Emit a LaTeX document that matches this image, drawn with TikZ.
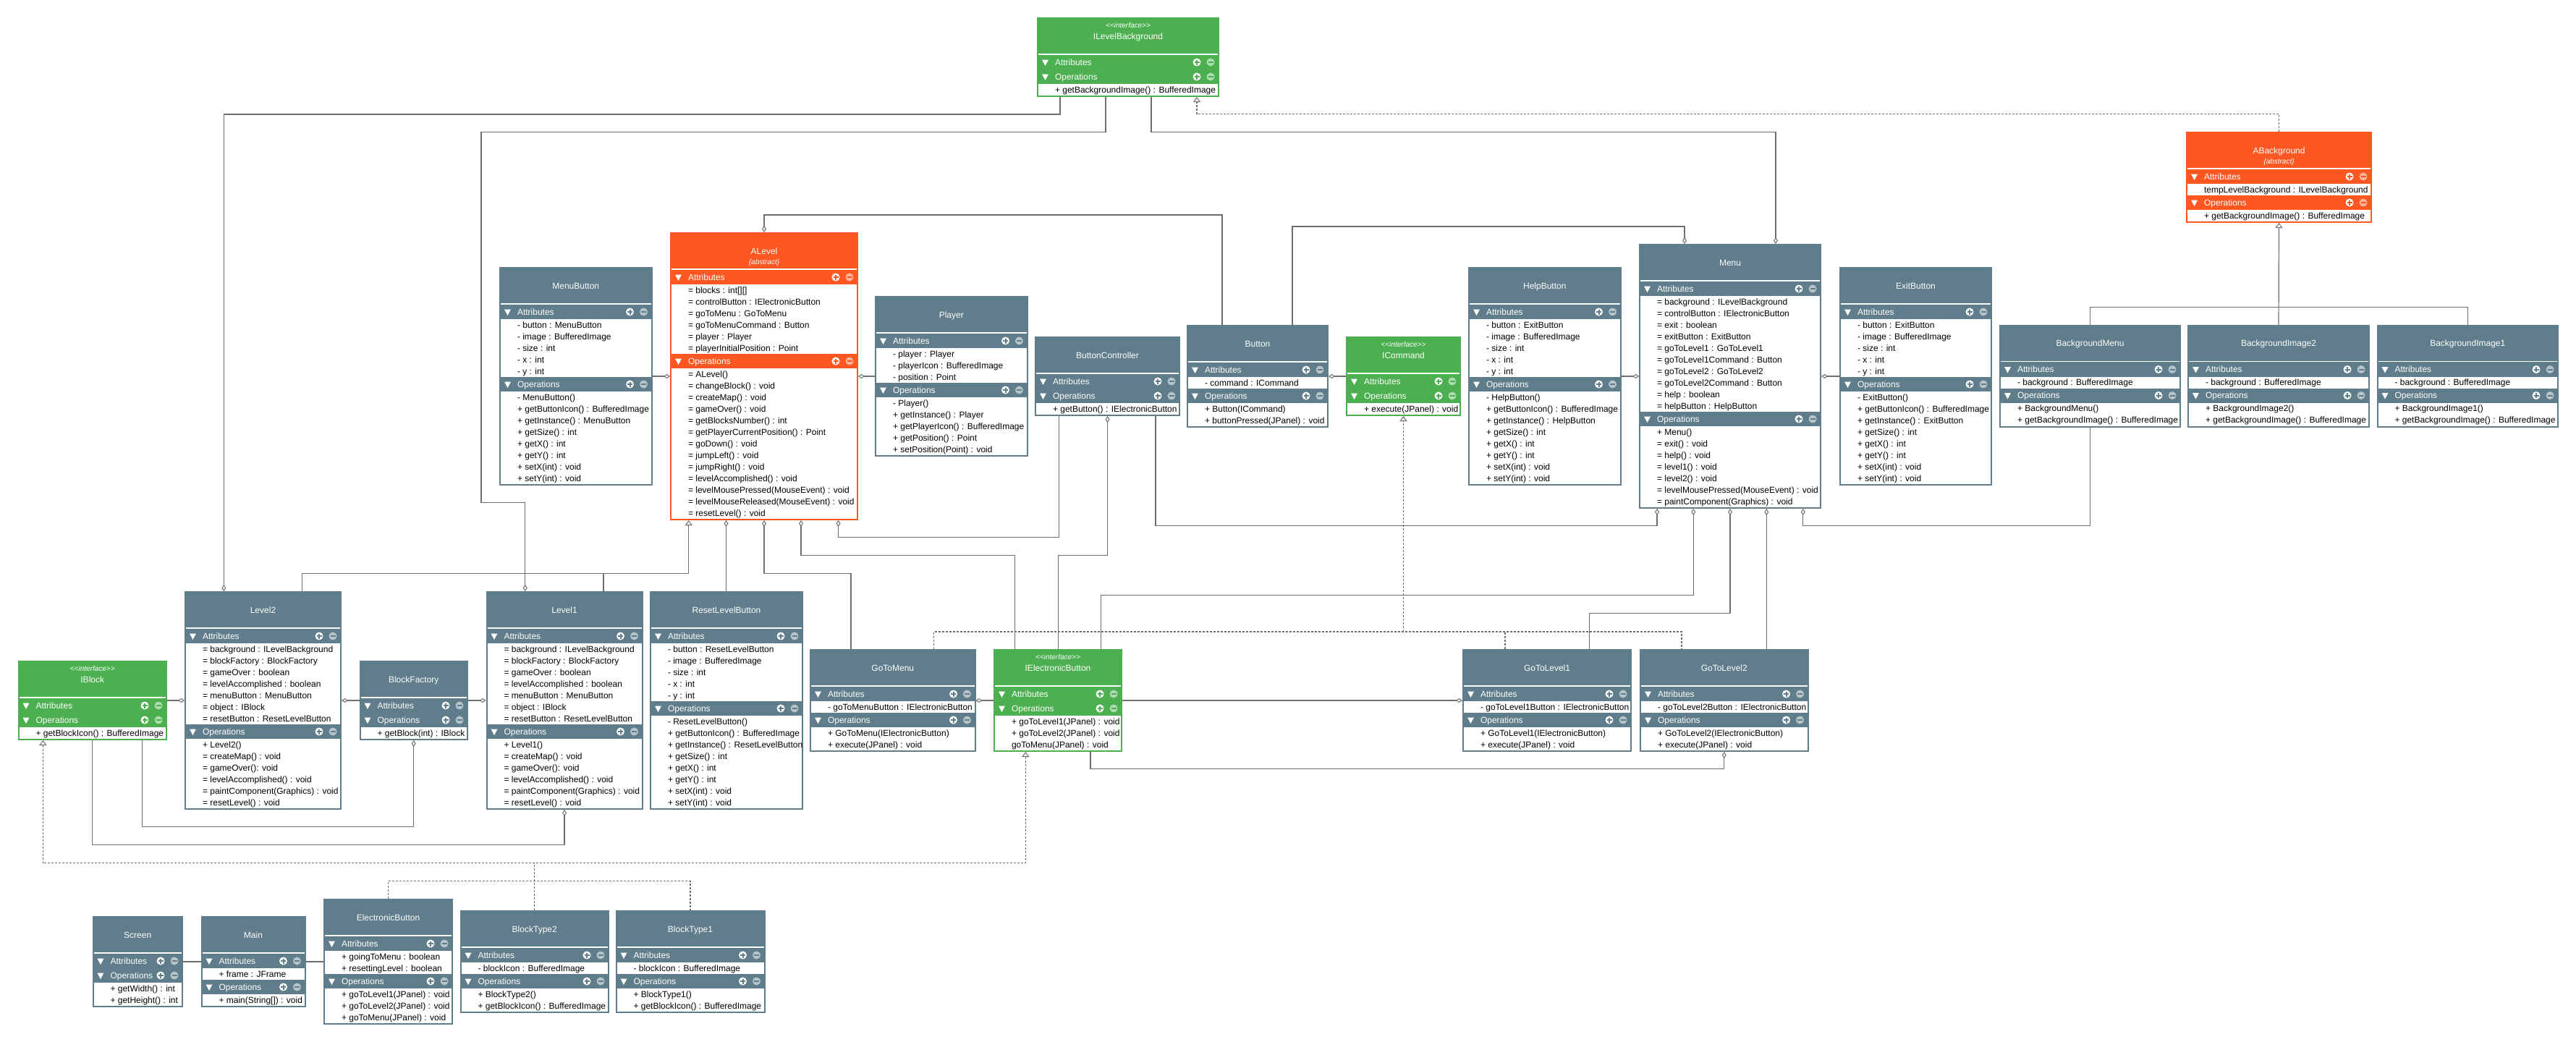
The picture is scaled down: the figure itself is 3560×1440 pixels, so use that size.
\documentclass[tikz,border=0pt]{standalone}
\usepackage{fontspec}
\setmainfont{Liberation Sans}
\usetikzlibrary{arrows.meta}
\definecolor{ublue}{HTML}{607D8B}
\definecolor{ugreen}{HTML}{4CAF50}
\definecolor{uorange}{HTML}{FF5722}
\definecolor{lnk}{HTML}{6E6E6E}
\newcount\nA \newcount\nO
\tikzset{
  rowtext/.style={inner sep=0pt, outer sep=0pt, anchor=base west, font=\fontsize{12}{14}\selectfont, text=black},
  bartext/.style={inner sep=0pt, outer sep=0pt, anchor=base west, font=\fontsize{12}{14}\selectfont, text=white},
  titletext/.style={inner sep=0pt, outer sep=0pt, anchor=base, font=\fontsize{12}{14}\selectfont, text=white},
  stereo/.style={inner sep=0pt, outer sep=0pt, anchor=base, font=\fontsize{10}{12}\selectfont\itshape, text=white},
  conn/.style={draw=lnk, line width=1.2pt},
  agg/.style={conn, {Diamond[fill=white, length=9pt, width=6pt, line width=1pt]}-},
  gen/.style={conn, -{Triangle[fill=white, length=7pt, width=10pt, line width=1pt]}},
  tree/.style={draw=lnk, line width=1.1pt, dash pattern=on 3pt off 2pt},
  real/.style={tree, -{Triangle[fill=white, length=7pt, width=10pt, line width=1pt]}},
  realboth/.style={tree, {Triangle[fill=white, length=7pt, width=10pt, line width=1pt]}-{Triangle[fill=white, length=7pt, width=10pt, line width=1pt]}},
}
% section bar: #1 x1, #2 x2, #3 bar top, #4 colour, #5 label, #6 node name
\newcommand\umlbar[6]{%
  \fill[white] (#1+7,#3+6.5) -- (#1+16,#3+6.5) -- (#1+11.5,#3+15) -- cycle;
  \node[bartext] (#6) at (#1+25,#3+14.3) {#5};
  \fill[white] (#2-31,#3+10) circle[radius=5.5pt];
  \draw[#4, line width=2pt] (#2-34.5,#3+10) -- (#2-27.5,#3+10) (#2-31,#3+6.5) -- (#2-31,#3+13.5);
  \fill[white!55!#4] (#2-12,#3+10) circle[radius=5.5pt];
  \draw[#4, line width=2pt] (#2-15.5,#3+10) -- (#2-8.5,#3+10);
}
% class: #1 name, #2 x1, #3 x2, #4 top, #5 colour, #6 kind (n/i/a), #7 title, #8 attributes, #9 operations
\newcommand\umlclass[9]{%
  \global\nA=0 \global\nO=0
  \if\relax\detokenize{#8}\relax\else\foreach \rowtxt in {#8}{\global\advance\nA by 1 }\fi
  \foreach \rowtxt in {#9}{\global\advance\nO by 1 }%
  \pgfmathsetmacro\yA{#4+52}%
  \pgfmathsetmacro\yO{#4+72+16*\the\nA}%
  \pgfmathsetmacro\yB{#4+94+16*\the\nA+16*\the\nO}%
  \pgfmathsetmacro\xm{(#2+#3)/2}%
  \pgfmathsetmacro\bw{#3-#2}%
  \pgfmathsetmacro\bh{\yB-#4}%
  \node[inner sep=0pt, outer sep=0pt, minimum width=\bw pt, minimum height=\bh pt, anchor=north west] (#1) at (#2,#4) {};
  \fill[#5] (#2,#4) rectangle (#3,\yB);
  \draw[white, line width=1.6pt] (#2+2,#4+51) -- (#3-2,#4+51);
  \ifnum\nA>0 \fill[white] (#2+2,\yA+20) rectangle (#3-2,\yO);\fi
  \fill[white] (#2+2,\yO+20) rectangle (#3-2,\yB-2);
  \if#6i
    \node[stereo] (#1-st) at (\xm,#4+14.8) {{<}{<}interface{>}{>}};
    \node[titletext] (#1-t) at (\xm,#4+30) {#7};
  \else\if#6a
    \node[titletext] (#1-t) at (\xm,#4+30) {#7};
    \node[stereo] (#1-st) at (\xm,#4+44.3) {\{abstract\}};
  \else
    \node[titletext] (#1-t) at (\xm,#4+30.2) {#7};
  \fi\fi
  \umlbar{#2}{#3}{\yA}{#5}{Attributes}{#1-ab}%
  \umlbar{#2}{#3}{\yO}{#5}{Operations}{#1-ob}%
  \begin{scope}
    \clip (#2,#4) rectangle (#3-2,\yB);
    \if\relax\detokenize{#8}\relax\else
      \foreach \rowtxt [count=\i] in {#8}{\node[rowtext] (#1-a\i) at (#2+25,\yA+16.2+16*\i) {\rowtxt};}
    \fi
    \foreach \rowtxt [count=\i] in {#9}{\node[rowtext] (#1-o\i) at (#2+25,\yO+16.2+16*\i) {\rowtxt};}
  \end{scope}
}
\begin{document}
\begin{tikzpicture}[x=1pt,y=-1pt]
\fill[white] (0,0) rectangle (3560,1440);
\useasboundingbox (0,0) rectangle (3560,1440);

% ---------- classes ----------
\umlclass{ilb}{1433}{1685}{24}{ugreen}{i}{ILevelBackground}{}{+ getBackgroundImage() : BufferedImage}
\umlclass{abg}{3021}{3278}{182}{uorange}{a}{ABackground}{tempLevelBackground : ILevelBackground}{+ getBackgroundImage() : BufferedImage}
\umlclass{bgm}{2763}{3014}{448.5}{ublue}{n}{BackgroundMenu}{- background : BufferedImage}{+ BackgroundMenu(), + getBackgroundImage() : BufferedImage}
\umlclass{bg2}{3023}{3275}{448.5}{ublue}{n}{BackgroundImage2}{- background : BufferedImage}{+ BackgroundImage2(), + getBackgroundImage() : BufferedImage}
\umlclass{bg1}{3284.5}{3536}{448.5}{ublue}{n}{BackgroundImage1}{- background : BufferedImage}{+ BackgroundImage1(), + getBackgroundImage() : BufferedImage}

\umlclass{menubtn}{690}{901.5}{369}{ublue}{n}{MenuButton}
 {- button : MenuButton, - image : BufferedImage, - size : int, - x : int, - y : int}
 {- MenuButton(), + getButtonIcon() : BufferedImage, + getInstance() : MenuButton, + getSize() : int, + getX() : int, + getY() : int, + setX(int) : void, + setY(int) : void}
\umlclass{alevel}{926}{1186}{321}{uorange}{a}{ALevel}
 {= blocks : int[][], = controlButton : IElectronicButton, = goToMenu : GoToMenu, = goToMenuCommand : Button, = player : Player, = playerInitialPosition : Point}
 {= ALevel(), = changeBlock() : void, = createMap() : void, = gameOver() : void, = getBlocksNumber() : int, = getPlayerCurrentPosition() : Point, = goDown() : void, = jumpLeft() : void, = jumpRight() : void, = levelAccomplished() : void, = levelMousePressed(MouseEvent) : void, = levelMouseReleased(MouseEvent) : void, = resetLevel() : void}
\umlclass{player}{1209}{1420.5}{409}{ublue}{n}{Player}
 {- player : Player, - playerIcon : BufferedImage, - position : Point}
 {- Player(), + getInstance() : Player, + getPlayerIcon() : BufferedImage, + getPosition() : Point, + setPosition(Point) : void}
\umlclass{btnctrl}{1430}{1631}{465}{ublue}{n}{ButtonController}{}{+ getButton() : IElectronicButton}
\umlclass{button}{1640}{1836}{449}{ublue}{n}{Button}{- command : ICommand}{+ Button(ICommand), + buttonPressed(JPanel) : void}
\umlclass{icmd}{1860}{2019}{465}{ugreen}{i}{ICommand}{}{+ execute(JPanel) : void}
\umlclass{helpbtn}{2029}{2240.5}{369}{ublue}{n}{HelpButton}
 {- button : ExitButton, - image : BufferedImage, - size : int, - x : int, - y : int}
 {- HelpButton(), + getButtonIcon() : BufferedImage, + getInstance() : HelpButton, + getSize() : int, + getX() : int, + getY() : int, + setX(int) : void, + setY(int) : void}
\umlclass{menu}{2265}{2517}{337}{ublue}{n}{Menu}
 {= background : ILevelBackground, = controlButton : IElectronicButton, = exit : boolean, = exitButton : ExitButton, = goToLevel1 : GoToLevel1, = goToLevel1Command : Button, = goToLevel2 : GoToLevel2, = goToLevel2Command : Button, = help : boolean, = helpButton : HelpButton}
 {+ Menu(), = exit() : void, = help() : void, = level1() : void, = level2() : void, = levelMousePressed(MouseEvent) : void, = paintComponent(Graphics) : void}
\umlclass{exitbtn}{2542}{2753}{369}{ublue}{n}{ExitButton}
 {- button : ExitButton, - image : BufferedImage, - size : int, - x : int, - y : int}
 {- ExitButton(), + getButtonIcon() : BufferedImage, + getInstance() : ExitButton, + getSize() : int, + getX() : int, + getY() : int, + setX(int) : void, + setY(int) : void}

\umlclass{level2}{255}{472}{817}{ublue}{n}{Level2}
 {= background : ILevelBackground, = blockFactory : BlockFactory, = gameOver : boolean, = levelAccomplished : boolean, = menuButton : MenuButton, = object : IBlock, = resetButton : ResetLevelButton}
 {+ Level2(), = createMap() : void, = gameOver(): void, = levelAccomplished() : void, = paintComponent(Graphics) : void, = resetLevel() : void}
\umlclass{iblock}{24.5}{231}{913}{ugreen}{i}{IBlock}{}{+ getBlockIcon() : BufferedImage}
\umlclass{blockfac}{496.5}{647}{913}{ublue}{n}{BlockFactory}{}{+ getBlock(int) : IBlock}
\umlclass{level1}{671.5}{888.5}{817}{ublue}{n}{Level1}
 {= background : ILevelBackground, = blockFactory : BlockFactory, = gameOver : boolean, = levelAccomplished : boolean, = menuButton : MenuButton, = object : IBlock, = resetButton : ResetLevelButton}
 {+ Level1(), = createMap() : void, = gameOver(): void, = levelAccomplished() : void, = paintComponent(Graphics) : void, = resetLevel() : void}
\umlclass{resetbtn}{898}{1110}{817}{ublue}{n}{ResetLevelButton}
 {- button : ResetLevelButton, - image : BufferedImage, - size : int, - x : int, - y : int}
 {- ResetLevelButton(), + getButtonIcon() : BufferedImage, + getInstance() : ResetLevelButton, + getSize() : int, + getX() : int, + getY() : int, + setX(int) : void, + setY(int) : void}
\umlclass{gotomenu}{1119}{1348.5}{897}{ublue}{n}{GoToMenu}{- goToMenuButton : IElectronicButton}{+ GoToMenu(IElectronicButton), + execute(JPanel) : void}
\umlclass{ieb}{1373}{1551}{897}{ugreen}{i}{IElectronicButton}{}{+ goToLevel1(JPanel) : void, + goToLevel2(JPanel) : void, goToMenu(JPanel) : void}
\umlclass{gotol1}{2021}{2255}{897}{ublue}{n}{GoToLevel1}{- goToLevel1Button : IElectronicButton}{+ GoToLevel1(IElectronicButton), + execute(JPanel) : void}
\umlclass{gotol2}{2266}{2499.5}{897}{ublue}{n}{GoToLevel2}{- goToLevel2Button : IElectronicButton}{+ GoToLevel2(IElectronicButton), + execute(JPanel) : void}

\umlclass{screen}{127.5}{253}{1266}{ublue}{n}{Screen}{}{+ getWidth() : int, + getHeight() : int}
\umlclass{main}{277.5}{422.5}{1266}{ublue}{n}{Main}{+ frame : JFrame}{+ main(String[]) : void}
\umlclass{ebtn}{447}{626}{1242}{ublue}{n}{ElectronicButton}{+ goingToMenu : boolean, + resettingLevel : boolean}{+ goToLevel1(JPanel) : void, + goToLevel2(JPanel) : void, + goToMenu(JPanel) : void}
\umlclass{bt2}{635.5}{842}{1258}{ublue}{n}{BlockType2}{- blockIcon : BufferedImage}{+ BlockType2(), + getBlockIcon() : BufferedImage}
\umlclass{bt1}{850.5}{1057.5}{1258}{ublue}{n}{BlockType1}{- blockIcon : BufferedImage}{+ BlockType1(), + getBlockIcon() : BufferedImage}

% ---------- connectors ----------
% ILevelBackground
\draw[agg] (level2.north -| 309.4,0) |- (1465,158) -- (ilb.south -| 1465,0);
\draw[agg] (level1.north -| 725.8,0) -- (725.8,694.4) -- (665,694.4) -- (665,182.6) -- (1528,182.6) -- (ilb.south -| 1528,0);
\draw[agg] (menu.north -| 2454,0) |- (1591,182.6) -- (ilb.south -| 1591,0);
\draw[real] (abg.north) |- (1654,157.4) -- (ilb.south -| 1654,0);
% Button
\draw[agg] (menu.north -| 2328,0) |- (1786,313) -- (button.north -| 1786,0);
\draw[agg] (alevel.north) |- (1689,297) -- (button.north -| 1689,0);
% side aggregations at y=520
\draw[agg] (alevel.west |- 0,520) -- (menubtn.east |- 0,520);
\draw[agg] (alevel.east |- 0,520) -- (player.west |- 0,520);
\draw[agg] (menu.west |- 0,520) -- (helpbtn.east |- 0,520);
\draw[agg] (menu.east |- 0,520) -- (exitbtn.west |- 0,520);
\draw[agg] (button.east |- 0,520) -- (icmd.west |- 0,520);
% ICommand realizations
\draw[tree] (gotomenu.north -| 1290.5,0) |- (2324,873) -- (gotol2.north -| 2324,0);
\draw[tree] (gotol1.north -| 2080,0) -- (2080,873);
\draw[real] (1939.5,873) -- (icmd.south -| 1939.5,0);
% ButtonController / IElectronicButton
\draw[agg] (menu.south -| 2290,0) |- (1597,726.7) -- (btnctrl.south -| 1597,0);
\draw[agg] (alevel.south -| 1158.5,0) |- (1463.5,742.5) -- (btnctrl.south -| 1463.5,0);
\draw[agg] (btnctrl.south) |- (1462.5,767.7) -- (ieb.north -| 1462.5,0);
\draw[agg] (alevel.south -| 1107,0) |- (1402.6,767.7) -- (ieb.north -| 1402.6,0);
\draw[agg] (menu.south -| 2340.3,0) |- (1521.4,822.7) -- (ieb.north -| 1521.4,0);
\draw[agg] (menu.south) |- (2196.4,847.7) -- (gotol1.north -| 2196.4,0);
\draw[agg] (menu.south -| 2441.3,0) -- (gotol2.north -| 2441.3,0);
\draw[agg] (menu.south -| 2491.8,0) |- (bgm.south |- 0,726.7) -- (bgm.south);
\draw[agg] (gotomenu.east |- 0,968) -- (ieb.west |- 0,968);
\draw[agg] (gotol1.west |- 0,968) -- (ieb.east |- 0,968);
\draw[agg] (gotol2.south) |- (1506.9,1062.7) -- (ieb.south -| 1506.9,0);
% backgrounds
\draw[conn] (bgm.north) |- (bg2.north |- 0,424.4) -| (bg1.north);
\draw[gen] (bg2.north) -- (abg.south);
% IBlock / IElectronicButton realizations
\draw[realboth] (iblock.south -| 59.4,0) |- (1417.3,1192.7) -- (ieb.south -| 1417.3,0);
\draw[tree] (bt2.north) -- (bt2.north |- 0,1192.7);
\draw[tree] (ebtn.north) |- (bt1.north |- 0,1217.7) -- (bt1.north);
% IBlock / BlockFactory
\draw[agg] (level1.south -| 780,0) |- (iblock.south |- 0,1167.7) -- (iblock.south);
\draw[agg] (blockfac.south) |- (196.4,1142.7) -- (iblock.south -| 196.4,0);
\draw[agg] (level2.west |- 0,968) -- (iblock.east |- 0,968);
\draw[agg] (level2.east |- 0,968) -- (blockfac.west |- 0,968);
\draw[agg] (level1.west |- 0,968) -- (blockfac.east |- 0,968);
% ALevel generalization and bottom aggregations
\draw[gen] (level2.north -| 417.8,0) |- (951.8,792.5) -- (alevel.south -| 951.8,0);
\draw[conn] (level1.north -| 834,0) -- (834,792.5);
\draw[agg] (alevel.south -| 1003.5,0) -- (resetbtn.north -| 1003.5,0);
\draw[agg] (alevel.south) |- (1176,792.7) -- (gotomenu.north -| 1176,0);
% Screen - Main - ElectronicButton
\draw[conn] (screen.east |- 0,1329) -- (main.west |- 0,1329);
\draw[conn] (main.east |- 0,1329) -- (ebtn.west |- 0,1329);
\end{tikzpicture}
\end{document}
